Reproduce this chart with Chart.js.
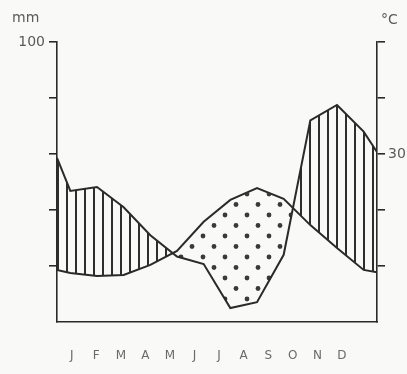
<!DOCTYPE html>
<html>
<head>
<meta charset="utf-8">
<script src="https://cdn.jsdelivr.net/npm/chart.js@4/dist/chart.umd.min.js"></script>
<style>
  html, body { margin: 0; padding: 0; background: #f9f9f7; }
  #wrap { position: relative; width: 407px; height: 374px; }
  canvas { display: block; }
</style>
</head>
<body>
<div id="wrap"><canvas id="c" width="407" height="374"></canvas></div>
<script>
// ---- data ----
const MONTHS = ['J','F','M','A','M','J','J','A','S','O','N','D'];
// x positions in month units (0 = left axis, 12 = right axis)
const X_POS = [0, 0.5, 1.5, 2.5, 3.5, 4.5, 5.5, 6.5, 7.5, 8.5, 9.5, 10.5, 11.5, 12];
// precipitation, mm
const PRECIP_MM = [58.6, 46.8, 48.2, 41, 31, 23.4, 20.7, 5.0, 7.1, 24, 72, 77.5, 68, 60.7];
// temperature, °C
const TEMP_C = [9.3, 8.75, 8.2, 8.4, 10.2, 12.7, 17.9, 21.8, 23.9, 22.0, 17.3, 13.2, 9.3, 8.9];
// tick labels shown
const MM_TICK_LABELS = [100];
const C_TICK_LABELS = [30];
const MM_UNIT = 'mm';
const C_UNIT = '°C';

// ---- fill patterns ----
function stripePattern() {
  const c = document.createElement('canvas');
  c.width = 9; c.height = 9;
  const g = c.getContext('2d');
  g.fillStyle = '#2e2e2e';
  g.fillRect(3, 0, 2, 9);
  return g.createPattern(c, 'repeat');
}
function dotPattern() {
  const c = document.createElement('canvas');
  c.width = 22; c.height = 21;
  const g = c.getContext('2d');
  g.fillStyle = '#3a3a3a';
  [[5, 5], [16, 15.5]].forEach(([x, y]) => {
    g.beginPath(); g.arc(x, y, 2.4, 0, Math.PI * 2); g.fill();
  });
  return g.createPattern(c, 'repeat');
}

const ink = '#2a2a2a';
const textGray = '#5a5a5a';
const FONT = 'DejaVu Sans';

const unitLabels = {
  id: 'unitLabels',
  afterDraw(chart) {
    const ctx = chart.ctx;
    ctx.save();
    ctx.fillStyle = textGray;
    ctx.font = '14px "' + FONT + '"';
    ctx.textBaseline = 'middle';
    ctx.textAlign = 'left';
    ctx.fillText(MM_UNIT, 12, 18);
    ctx.fillText(C_UNIT, 381, 20);
    ctx.restore();
  }
};

new Chart(document.getElementById('c'), {
  type: 'line',
  data: {
    datasets: [
      {
        label: 'Precipitation (mm)',
        data: X_POS.map((x, i) => ({ x, y: PRECIP_MM[i] })),
        yAxisID: 'y',
        borderColor: ink,
        borderWidth: 2,
        pointRadius: 0,
        tension: 0,
        fill: { target: 1, above: stripePattern(), below: dotPattern() }
      },
      {
        label: 'Temperature (°C)',
        data: X_POS.map((x, i) => ({ x, y: TEMP_C[i] })),
        yAxisID: 'y2',
        borderColor: ink,
        borderWidth: 2,
        pointRadius: 0,
        tension: 0,
        fill: false
      }
    ]
  },
  options: {
    responsive: false,
    animation: false,
    layout: { padding: { top: 42, right: 0, left: 0, bottom: 0 } },
    plugins: { legend: { display: false }, tooltip: { enabled: false } },
    scales: {
      x: {
        type: 'linear', min: 0, max: 12,
        grid: { display: false, drawTicks: false },
        border: { display: true, color: ink, width: 1.6 },
        afterFit: s => { s.height = 52; },
        afterBuildTicks: s => {
          s.ticks = MONTHS.map((m, i) => ({ value: 0.551 + 0.9214 * i }));
        },
        ticks: {
          autoSkip: false, maxRotation: 0,
          padding: 27,
          color: '#6a6a6a',
          font: { family: FONT, size: 12 },
          callback: (v, i) => MONTHS[i]
        }
      },
      y: {
        position: 'left', min: 0, max: 100,
        afterFit: s => { s.width = 57; },
        grid: {
          drawOnChartArea: false, drawTicks: true, tickLength: 8,
          color: c => (c.tick && c.tick.value === 0) ? 'rgba(0,0,0,0)' : ink,
          lineWidth: 1.6
        },
        border: { display: true, color: ink, width: 1.6 },
        ticks: {
          stepSize: 20, padding: 4, color: textGray,
          font: { family: FONT, size: 14 },
          callback: v => MM_TICK_LABELS.includes(v) ? String(v) : ''
        }
      },
      y2: {
        position: 'right', min: 0, max: 50,
        afterFit: s => { s.width = 30; },
        grid: {
          drawOnChartArea: false, drawTicks: true, tickLength: 8,
          color: c => (c.tick && c.tick.value === 0) ? 'rgba(0,0,0,0)' : ink,
          lineWidth: 1.6
        },
        border: { display: true, color: ink, width: 1.6 },
        ticks: {
          stepSize: 10, padding: 3, color: textGray,
          font: { family: FONT, size: 14 },
          callback: v => C_TICK_LABELS.includes(v) ? String(v) : ''
        }
      }
    }
  },
  plugins: [unitLabels]
});
</script>
</body>
</html>
